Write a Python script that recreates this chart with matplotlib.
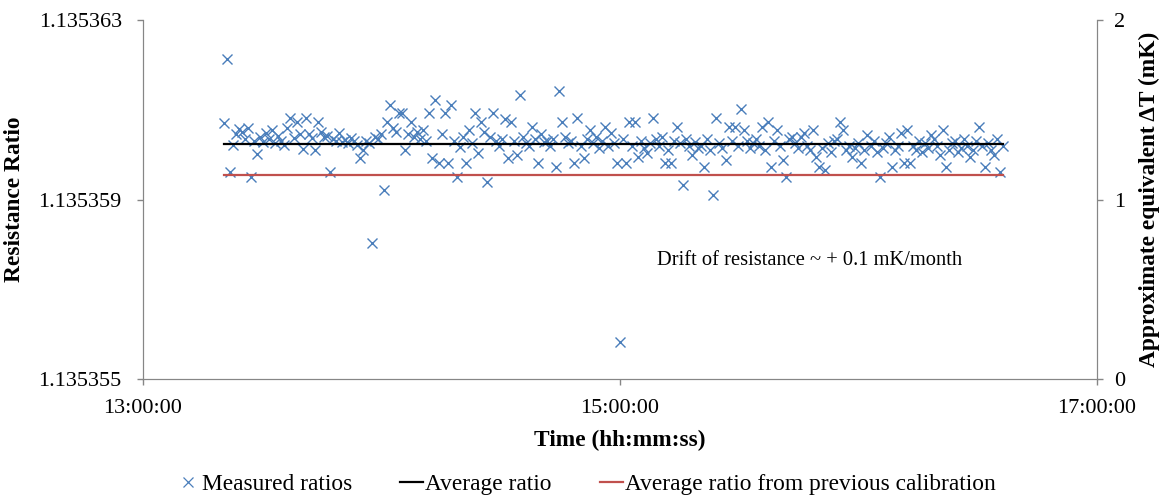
import matplotlib
matplotlib.use("Agg")
import matplotlib.pyplot as plt
import matplotlib.dates as mdates
from matplotlib.lines import Line2D
from datetime import datetime, timedelta

# ---- data ----
base_ratio = 1.13536          # reference level
unit = 1e-8                   # offsets below are in units of 1e-8
start_time = datetime(2000, 1, 1, 13, 20, 23)
interval_s = 45.6             # measurement interval (s)

seg_a = [71, 213, -38, 22, 45, 58, 50, 35, 60, -49, 30, 2, 40, 28, 48, 35, 55, 25, 42, 30, 22, 60, 81, 38, 73, 45]
seg_b = [12, 81, 45, 38, 10, 73, 50, 40, 42, -39, 35, 30, 48, 28, 33, 25, 36, 30, 22, -7, 10, 30, 26, -197, 40, 35, 45, -78, 73, 110, 60, 50, 93]
seg_c = [93, 10, 45, 73, 40, 50, 35, 55, 30, 93, -7, 122, -18, 45, 93, -18, 110, 30, -50, 17, 40, -18, 55, 25, 93, 4, 73, 50, -61, 40, 93, 30, 20]
seg_d = [35, 80, -7, 73, 30, 0, 133, 40, 25, 20, 62, 35, -18, 45, 28, 30, 20, 35, -27, 142, 73, 40, 25, 30, -18, 81, 20, -7, 35, 55, 25, 40, 15]
seg_e = [30, 62, 20, 48, 25, -18, -417, 35, -18, 73, 20, 73, -5, 30, 15, 4, 25, 81, 35, 20, 40, -18, 10, -18, 30, 62, 25, -67, 35, 20, 0, 28, 15]
seg_f = [20, -27, 35, 10, -90, 81, 25, 15, -12, 62, 30, 62, 20, 102, 55, 30, 15, 25, 35, 20, 62, 10, 73, -27, 30, 55, 20, -12, -50, 35, 40, 25, 15]
seg_g = [40, 48, 20, 10, 55, -5, -27, 15, -34, 25, 5, 30, 35, 73, 55, 10, 20, -5, 15, 25, -18, 10, 44, 20, 30, 5, -50, 15, 25, 40, -27, 10, 20]
seg_h = [48, -18, 55, -18, 20, 10, 30, 5, 25, 15, 44, 35, 20, 0, 55, -27, 10, 25, 30, 5, 15, 35, 20, -5, 10, 30, 62, 20, -27, 25, 10, 0, 35, -38, 20]

average_ratio = 1.13536024
previous_ratio = 1.13535955

y_ticks = [1.135355, 1.135359, 1.135363]
y_tick_labels = ["1.135355", "1.135359", "1.135363"]
y2_ticks = [0, 1, 2]
x_tick_hours = [13, 15, 17]

offsets = seg_a + seg_b + seg_c + seg_d + seg_e + seg_f + seg_g + seg_h
ratios = [base_ratio + o * unit for o in offsets]
times = [start_time + timedelta(seconds=i * interval_s) for i in range(len(ratios))]

# ---- style ----
plt.rcParams['font.family'] = ['Liberation Serif', 'DejaVu Serif']
fs_tick = 16
fs_lab = 16.8
fs_leg = 16.8
fs_note = 14.8
blue = '#4A7EBB'
red = '#C0504D'
grey = '#868686'

fig = plt.figure(figsize=(11.65, 4.98), dpi=100)
ax = fig.add_axes([143/1165, 1 - 379/498, (1097-143)/1165, (379-20)/498])

ax.plot(times, ratios, linestyle='none', marker='x', color=blue,
        markersize=7.5, markeredgewidth=1.0)
ax.plot([times[0], times[-1]], [average_ratio, average_ratio], color='black', lw=1.6)
ax.plot([times[0], times[-1]], [previous_ratio, previous_ratio], color=red, lw=1.6)

day = start_time.date()
ax.set_xlim(datetime(day.year, day.month, day.day, 13), datetime(day.year, day.month, day.day, 17))
ax.set_xticks([datetime(day.year, day.month, day.day, h) for h in x_tick_hours])
ax.xaxis.set_major_formatter(mdates.DateFormatter('%H:%M:%S'))
ax.set_ylim(y_ticks[0], y_ticks[-1])
ax.set_yticks(y_ticks)
ax.set_yticklabels(y_tick_labels)

ax2 = ax.twinx()
ax2.set_ylim(0, 2)
ax2.set_yticks(y2_ticks)

for a in (ax, ax2):
    for s in a.spines.values():
        s.set_color(grey)
    a.spines['top'].set_visible(False)
    a.tick_params(axis='both', colors=grey, labelcolor='black', labelsize=fs_tick,
                  length=4.3, width=1, direction='out')
ax.tick_params(axis='y', pad=11)
ax.tick_params(axis='x', pad=10)
ax2.tick_params(axis='y', pad=8)

ax.set_ylabel('Resistance Ratio', fontsize=fs_lab, fontweight='bold', labelpad=10)
ax2.set_ylabel('Approximate equivalent \u0394T (mK)', fontsize=fs_lab, fontweight='bold',
               labelpad=10)
ax.set_xlabel('Time (hh:mm:ss)', fontsize=fs_lab, fontweight='bold', labelpad=9)

ax.text(0.539, 0.331, 'Drift of resistance ~ + 0.1 mK/month', transform=ax.transAxes,
        fontsize=fs_note, ha='left', va='center')

handles = [
    Line2D([], [], linestyle='none', marker='x', color=blue, markersize=6.5, markeredgewidth=0.9),
    Line2D([], [], color='black', lw=1.6),
    Line2D([], [], color=red, lw=1.6),
]
labels = ['Measured ratios', 'Average ratio', 'Average ratio from previous calibration']
fig.legend(handles, labels, loc='lower center', bbox_to_anchor=(0.503, -0.036), ncol=3,
           frameon=False, fontsize=fs_leg, handlelength=1.0, handletextpad=0.1,
           columnspacing=2.05)

fig.savefig('out.png', dpi=100)
